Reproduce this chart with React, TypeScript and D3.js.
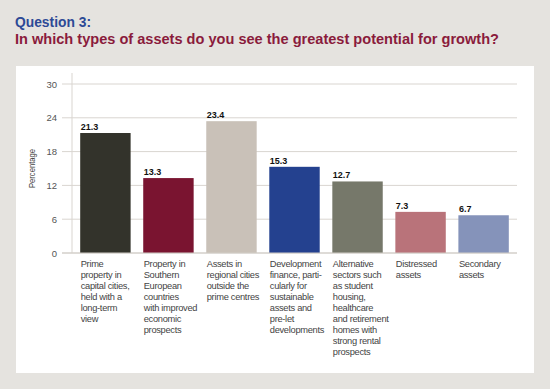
import React from "react";
import * as d3 from "d3";

const categories: string[][] = [
  ["Prime", "property in", "capital cities,", "held with a", "long-term", "view"],
  ["Property in", "Southern", "European", "countries", "with improved", "economic", "prospects"],
  ["Assets in", "regional cities", "outside the", "prime centres"],
  ["Development", "finance, parti-", "cularly for", "sustainable", "assets and", "pre-let", "developments"],
  ["Alternative", "sectors such", "as student", "housing,", "healthcare", "and retirement", "homes with", "strong rental", "prospects"],
  ["Distressed", "assets"],
  ["Secondary", "assets"],
];
const values: number[] = [21.3, 13.3, 23.4, 15.3, 12.7, 7.3, 6.7];
const valueLabels: string[] = ["21.3", "13.3", "23.4", "15.3", "12.7", "7.3", "6.7"];
const barColors: string[] = ["#33332b", "#7a1430", "#c9c1b8", "#24418f", "#76786a", "#b9737a", "#8593ba"];
const yTicks: number[] = [0, 6, 12, 18, 24, 30];
const titleLine1 = "Question 3:";
const titleLine2 = "In which types of assets do you see the greatest potential for growth?";
const yAxisTitle = "Percentage";

export default function App() {
  const W = 550, H = 389;
  const x0 = 72, x1 = 517;
  const y = d3.scaleLinear().domain([0, 30]).range([253, 84]);
  const x = d3.scaleBand<number>()
    .domain(values.map((_, i) => i))
    .range([x0, x1])
    .paddingInner(0.2)
    .paddingOuter(0.13);
  const font = "'Liberation Sans', Arial, Helvetica, sans-serif";
  return (
    <svg width={W} height={H} style={{ position: "absolute", left: 0, top: 0 }} fontFamily={font}>
      <rect x={0} y={0} width={W} height={H} fill="#e5e3df" />
      <text x={15} y={27} fontSize={15} fontWeight="bold" fill="#2d4a96" textLength={76} lengthAdjust="spacingAndGlyphs">{titleLine1}</text>
      <text x={15} y={44} fontSize={15} fontWeight="bold" fill="#8a1b3c" textLength={484} lengthAdjust="spacingAndGlyphs">{titleLine2}</text>
      <rect x={16} y={66} width={518} height={307} fill="#ffffff" />
      {yTicks.map((t) => (
        <g key={t}>
          <line x1={62} x2={x1} y1={y(t)} y2={y(t)} stroke="#d9d5d0" strokeWidth={1} />
          <text x={57} y={y(t) + 3.5} fontSize={9.5} fill="#555" textAnchor="end">{t}</text>
        </g>
      ))}
      <line x1={x0} x2={x0} y1={73} y2={y(0)} stroke="#d9d5d0" strokeWidth={1} />
      <text transform={`translate(34.5,${(y(0) + y(30)) / 2}) rotate(-90)`} fontSize={9} fill="#444" textAnchor="middle" textLength={39} lengthAdjust="spacingAndGlyphs">{yAxisTitle}</text>
      {values.map((v, i) => {
        const bx = x(i) as number;
        return (
          <g key={i}>
            <rect x={bx} y={y(v)} width={x.bandwidth()} height={y(0) - y(v)} fill={barColors[i]} />
            <text x={bx + 0.5} y={y(v) - 3} fontSize={9} fontWeight="bold" fill="#111">{valueLabels[i]}</text>
            <text x={bx + 0.5} y={267} fontSize={9.3} fill="#444" letterSpacing={-0.3}>
              {categories[i].map((line, j) => (
                <tspan key={j} x={bx + 0.5} dy={j === 0 ? 0 : 11}>{line}</tspan>
              ))}
            </text>
          </g>
        );
      })}
      <line x1={62} x2={x1} y1={y(0)} y2={y(0)} stroke="#d0ccc7" strokeWidth={1} />
    </svg>
  );
}
